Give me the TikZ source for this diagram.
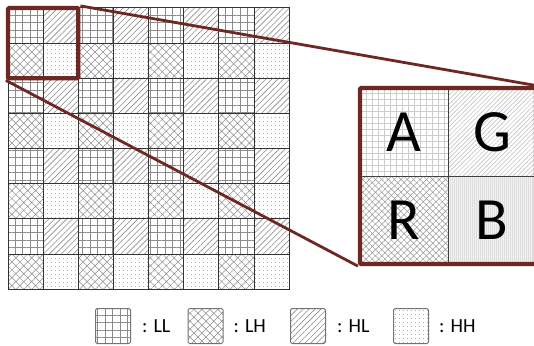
\documentclass[tikz,border=0pt]{standalone}
\usepackage{fontspec}
\setmainfont{Carlito}
\usetikzlibrary{patterns.meta,positioning,fit}
\definecolor{boxred}{RGB}{110,40,35}

\begin{document}
\begin{tikzpicture}[
  x=1pt,y=-1pt,
  cell/.style={draw=black!80,line width=1pt,minimum size=35.15pt,inner sep=0pt,outer sep=0pt},
  big/.style={draw=black!75,line width=0.8pt,minimum size=88pt,inner sep=0pt,outer sep=0pt,font=\fontsize{60}{60}\selectfont},
  key/.style={draw=black!55,line width=1pt,rounded corners=1.5pt,minimum size=35pt,inner sep=0pt},
  keytext/.style={font=\fontsize{20}{20}\selectfont,inner sep=0pt,anchor=west},
  LL/.style={pattern={Hatch[angle=0,distance=7.5pt,line width=0.7pt]},pattern color=black!45},
  LH/.style={pattern={Hatch[angle=45,distance=5.6pt,line width=0.5pt]},pattern color=black!45},
  HL/.style={pattern={Lines[angle=45,distance=4.2pt,line width=0.6pt]},pattern color=black!45},
  HH/.style={pattern={Dots[distance=4pt,radius=0.55pt]},pattern color=black!55},
  frame/.style={draw=boxred,line width=4.2pt,rounded corners=1pt,inner sep=0pt},
  zoomline/.style={draw=boxred,line width=2.8pt}
]
\clip (0,0) rectangle (534,345);
% 8x8 grid of subbands
\foreach \bi in {0,...,3}
  \foreach \bj in {0,...,3}{
    \node[cell,LL] (c\bi\bj a) at ({8+35.15*(2*\bi+0.5)},{8+35.15*(2*\bj+0.5)}) {};
    \node[cell,HL] (c\bi\bj b) at ({8+35.15*(2*\bi+1.5)},{8+35.15*(2*\bj+0.5)}) {};
    \node[cell,LH] (c\bi\bj c) at ({8+35.15*(2*\bi+0.5)},{8+35.15*(2*\bj+1.5)}) {};
    \node[cell,HH] (c\bi\bj d) at ({8+35.15*(2*\bi+1.5)},{8+35.15*(2*\bj+1.5)}) {};
  }
% enlarged block
\node[big,pattern={Hatch[angle=0,distance=6pt,line width=0.6pt]},pattern color=black!20] (A) at (404,132) {A};
\node[big,pattern={Lines[angle=45,distance=3.2pt,line width=0.5pt]},pattern color=black!28] (G) at (492,132) {G};
\node[big,pattern={Hatch[angle=45,distance=4.5pt,line width=0.5pt]},pattern color=black!40] (R) at (404,220) {R};
\node[big,pattern={Dots[distance=2pt,radius=0.5pt]},pattern color=black!65] (B) at (492,220) {B};
\node[frame,fit=(A)(B)] (zoom) {};
\node[frame,fit=(c00a)(c00d)] (sel) {};
\draw[zoomline] (sel.north east) -- (zoom.north east);
\draw[zoomline] (sel.south west) -- (zoom.south west);
% legend
\node[key,LL] (kLL) at (113,326) {};
\node[key,LH] (kLH) at (205.5,326) {};
\node[key,HL] (kHL) at (308,326) {};
\node[key,HH] (kHH) at (411,326) {};
\node[keytext,right=11pt of kLL] {: LL};
\node[keytext,right=10pt of kLH] {: LH};
\node[keytext,right=11pt of kHL] {: HL};
\node[keytext,right=10pt of kHH] {: HH};
\end{tikzpicture}
\end{document}
